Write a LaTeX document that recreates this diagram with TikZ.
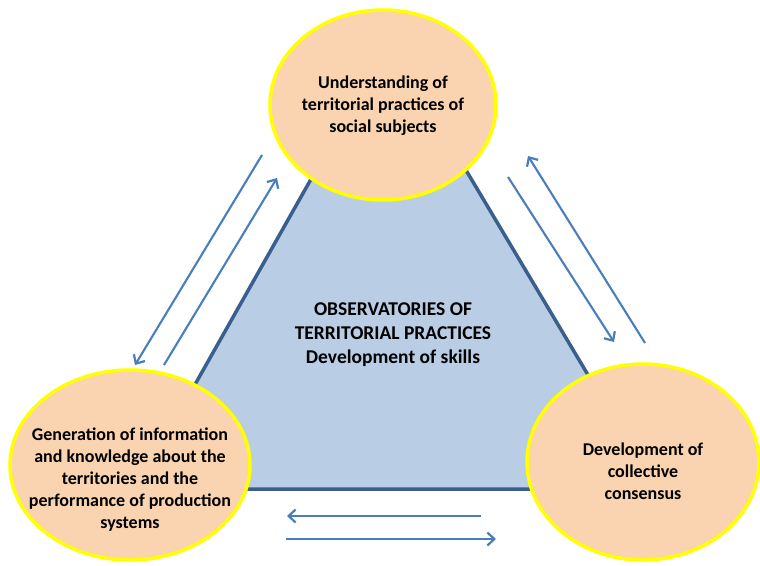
\documentclass[tikz,border=0pt]{standalone}
\usepackage{fontspec}
\setmainfont{Carlito}
\usetikzlibrary{arrows.meta,shapes.geometric}

\definecolor{peach}{HTML}{FAD4B0}
\definecolor{rimyellow}{HTML}{FFFF00}
\definecolor{triblue}{HTML}{B9CDE5}
\definecolor{triedge}{HTML}{3A5F8E}
\definecolor{arrowblue}{HTML}{4A7EBB}

\begin{document}
\begin{tikzpicture}[
    x=1pt, y=-1pt,
    font=\bfseries\fontsize{18}{22}\selectfont,
    % Shape styles
    bubble/.style={ellipse, draw=rimyellow, fill=peach, line width=3.5pt, inner sep=0pt},
    label text/.style={align=center, text=black},
    % Arrow style
    link/.style={-{Straight Barb[length=7pt,width=13pt,line width=2.2pt]}, line width=2.1pt, draw=arrowblue}
]
\useasboundingbox (0,0) rectangle (760,565);

% --- Central triangle ---
\coordinate (apex) at (389,41);
\coordinate (leftcorner) at (136,489);
\coordinate (rightcorner) at (656,489);
\draw[fill=triblue, draw=triedge, line width=3.5pt, line join=miter] (apex) -- (rightcorner) -- (leftcorner) -- cycle;
\node[label text, font=\bfseries\fontsize{19.5}{24}\selectfont] (centre) at (393,335) {OBSERVATORIES OF\\TERRITORIAL PRACTICES\\Development of skills};

% --- Ellipses ---
\node[bubble, minimum width=226pt, minimum height=190pt] (understand) at (383,105) {};
\node[label text] (understandtext) at (383,106) {Understanding of\\territorial practices of\\social subjects};

\node[bubble, minimum width=240pt, minimum height=190pt] (generate) at (130,465) {};
\node[label text] (generatetext) at (130,480) {Generation of information\\and knowledge about the\\territories and the\\performance of production\\systems};

\node[bubble, minimum width=232pt, minimum height=196pt] (consensus) at (643,462) {};
\node[label text] (consensustext) at (643,471) {Development of\\collective\\consensus};

% --- Arrow ends ---
\coordinate (ul1) at (262,155);
\coordinate (gl1) at (135,365);
\coordinate (gl2) at (164,365);
\coordinate (ul2) at (277,178);
\coordinate (ur1) at (508,177);
\coordinate (cr1) at (614,342);
\coordinate (cr2) at (645,343);
\coordinate (ur2) at (528,156);
\coordinate (cb1) at (481,516);
\coordinate (gb1) at (287,516);
\coordinate (gb2) at (286,539);
\coordinate (cb2) at (496,539);

% --- Arrows ---
\draw[link] (ul1) -- (gl1);
\draw[link] (gl2) -- (ul2);
\draw[link] (ur1) -- (cr1);
\draw[link] (cr2) -- (ur2);
\draw[link] (cb1) -- (gb1);
\draw[link] (gb2) -- (cb2);

\end{tikzpicture}
\end{document}
